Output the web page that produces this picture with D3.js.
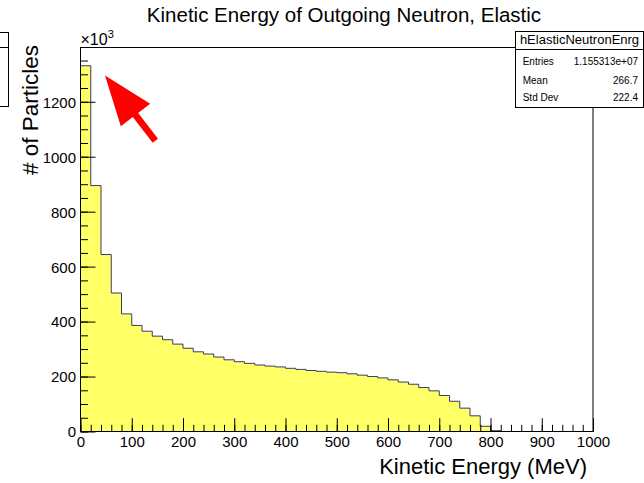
<!DOCTYPE html>
<html>
<head>
<meta charset="utf-8">
<script src="https://cdn.jsdelivr.net/npm/d3@7"></script>
<style>
  body { margin: 0; background: #fff; }
  svg { display: block; font-family: "Liberation Sans", Arial, Helvetica, sans-serif; }
</style>
</head>
<body>
<div class="canvas"></div>
<script>
// histogram: 50 bins, 20 MeV wide, counts in units of 10^3
const binEdges = d3.range(0, 1000, 20)
const counts = [1331, 895, 644, 504, 428, 386, 365, 347, 334, 318,
                303, 290, 282, 271, 261, 254, 248, 242, 238, 235,
                230, 226, 222, 219, 216, 214, 210, 205, 200, 195,
                188, 180, 172, 160, 148, 131, 110, 85, 57, 19,
                3, 0, 0, 0, 0, 0, 0, 0, 0, 0]
const xMajor = d3.range(0, 1001, 100)
const xMinor = d3.range(0, 1001, 20)
const yMajor = d3.range(0, 1201, 200)
const yMinor = d3.range(0, 1351, 50)
const statLabels = ['Entries', 'Mean', 'Std Dev']
const statValues = ['1.155313e+07', '266.7', '222.4']

const W = 644, H = 483
const svg = d3.select('.canvas').append('svg')
    .attr('width', W)
    .attr('height', H)

const frame = {left: 80.5, right: 593, top: 47.5, bottom: 431.5}

const x = d3.scaleLinear().domain([0, 1000]).range([frame.left, frame.right])
const y = d3.scaleLinear().domain([0, 1397.5]).range([frame.bottom, frame.top])

// hist points for step curve
const pts = [{e: 0, v: 0}]
binEdges.forEach((e, i) => pts.push({e: e, v: counts[i]}))
pts.push({e: 1000, v: 0})

const area = d3.area()
    .curve(d3.curveStepAfter)
    .x(d => x(d.e))
    .y0(y(0))
    .y1(d => y(d.v))
const line = d3.line()
    .curve(d3.curveStepAfter)
    .x(d => x(d.e))
    .y(d => y(d.v))

svg.append('path')
    .datum(pts)
    .attr('d', area)
    .attr('fill', '#ffff66')

svg.append('path')
    .datum(pts)
    .attr('d', line)
    .attr('fill', 'none')
    .attr('stroke', '#3a3a66')
    .attr('stroke-width', 1)

// axes (ticks inside the frame)
svg.append('g')
    .attr('transform', `translate(0,${frame.bottom})`)
    .call(d3.axisBottom(x).tickValues(xMajor).tickSizeInner(-13.3).tickSizeOuter(0).tickPadding(4.5).tickFormat(d3.format('d')))
svg.append('g')
    .attr('transform', `translate(0,${frame.bottom})`)
    .call(d3.axisBottom(x).tickValues(xMinor).tickSizeInner(-6.7).tickSizeOuter(0).tickFormat(''))

const yAxis = svg.append('g')
    .attr('transform', `translate(${frame.left},0)`)
    .call(d3.axisLeft(y).tickValues(yMajor).tickSizeInner(-15).tickSizeOuter(0).tickPadding(4.5).tickFormat(d3.format('d')))
svg.append('g')
    .attr('transform', `translate(${frame.left},0)`)
    .call(d3.axisLeft(y).tickValues(yMinor).tickSizeInner(-7.5).tickSizeOuter(0).tickFormat(''))

svg.selectAll('.domain').remove()
svg.selectAll('.tick line').attr('stroke', '#000')
svg.selectAll('.tick text')
    .attr('font-size', 15)
    .attr('font-family', '"Liberation Sans", Arial, sans-serif')
    .attr('fill', '#000')
yAxis.selectAll('.tick text').attr('dy', '0.36em')

// frame
svg.append('rect')
    .attr('x', frame.left)
    .attr('y', frame.top)
    .attr('width', frame.right - frame.left)
    .attr('height', frame.bottom - frame.top)
    .attr('fill', 'none')
    .attr('stroke', '#000')

// exponent label
const expo = svg.append('text')
    .attr('x', frame.left)
    .attr('y', 44.5)
    .attr('font-size', 16)
    .text('\u00d710')
expo.append('tspan')
    .attr('dy', -6.5)
    .attr('font-size', 11)
    .text('3')

// titles
svg.append('text')
    .attr('x', 344)
    .attr('y', 22)
    .attr('text-anchor', 'middle')
    .attr('font-size', 20.5)
    .text('Kinetic Energy of Outgoing Neutron, Elastic')

svg.append('text')
    .attr('x', 587)
    .attr('y', 474)
    .attr('text-anchor', 'end')
    .attr('font-size', 22)
    .text('Kinetic Energy (MeV)')

svg.append('text')
    .attr('transform', 'translate(37.5,45) rotate(-90)')
    .attr('text-anchor', 'end')
    .attr('font-size', 22.5)
    .text('# of Particles')

// partial box at the left edge
svg.append('rect')
    .attr('x', -5).attr('y', 32.5)
    .attr('width', 13.5).attr('height', 74)
    .attr('fill', '#fff').attr('stroke', '#000')
svg.append('line')
    .attr('x1', -5).attr('x2', 8.5)
    .attr('y1', 47.5).attr('y2', 47.5)
    .attr('stroke', '#000')

// stats box
const sb = {x: 515.5, y: 31.5, w: 128, h: 76, head: 18}
svg.append('rect')
    .attr('x', sb.x).attr('y', sb.y)
    .attr('width', sb.w).attr('height', sb.h)
    .attr('fill', '#fff').attr('stroke', '#000')
svg.append('line')
    .attr('x1', sb.x).attr('x2', sb.x + sb.w)
    .attr('y1', sb.y + sb.head).attr('y2', sb.y + sb.head)
    .attr('stroke', '#000')
svg.append('text')
    .attr('x', sb.x + sb.w / 2)
    .attr('y', 44)
    .attr('text-anchor', 'middle')
    .attr('font-size', 13)
    .text('hElasticNeutronEnrg')

const rowY = [64.7, 84, 100.7]
statLabels.forEach((s, i) => {
    svg.append('text')
        .attr('x', 522.7).attr('y', rowY[i])
        .attr('font-size', 10)
        .text(s)
    svg.append('text')
        .attr('x', 638).attr('y', rowY[i])
        .attr('text-anchor', 'end')
        .attr('font-size', 10)
        .text(statValues[i])
})

// red arrow pointing at the first bin
const tip = [x(47.8), y(1296)]
const tail = [x(146), y(1058)]
const ang = Math.atan2(tip[1] - tail[1], tip[0] - tail[0])
const len = Math.hypot(tip[0] - tail[0], tip[1] - tail[1])
const headLen = 50, headW = 18.5, shaftW = 3.4
const arrow = [
    [0, -shaftW], [len - headLen, -shaftW], [len - headLen, -headW],
    [len, 0],
    [len - headLen, headW], [len - headLen, shaftW], [0, shaftW]
]
svg.append('polygon')
    .attr('points', arrow.map(p => p.join(',')).join(' '))
    .attr('transform', `translate(${tail[0]},${tail[1]}) rotate(${ang * 180 / Math.PI})`)
    .attr('fill', '#ff0000')
</script>
</body>
</html>
